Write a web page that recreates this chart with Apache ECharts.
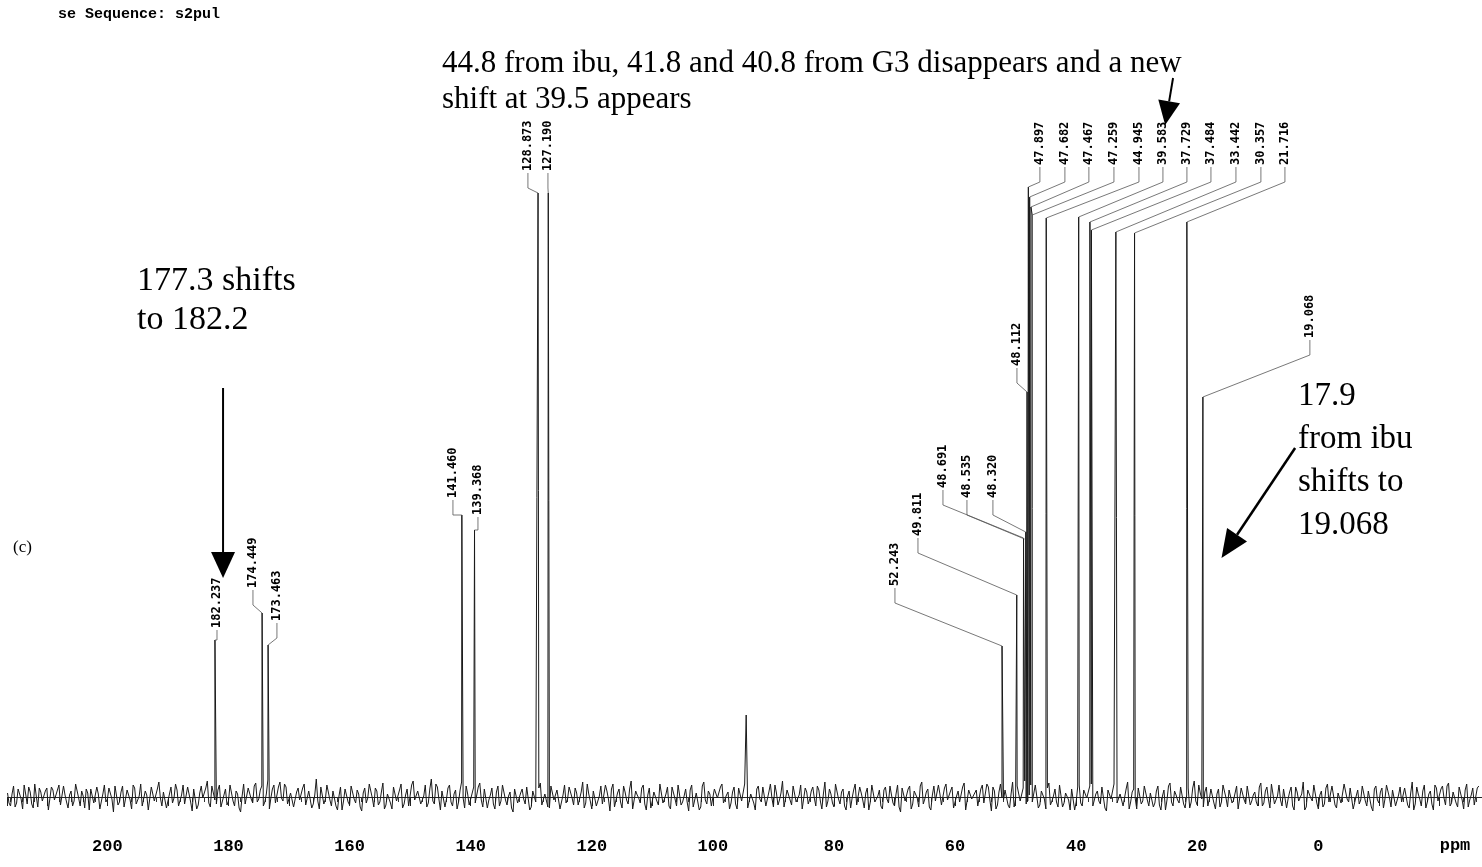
<!DOCTYPE html>
<html>
<head>
<meta charset="utf-8">
<script src="https://cdn.jsdelivr.net/npm/echarts@6/dist/echarts.min.js"></script>
<style>
  html, body { margin: 0; padding: 0; background: #fff; }
  #c { width: 1482px; height: 867px; }
</style>
</head>
<body>
<div id="c"></div>
<script>
// 13C NMR spectrum (s2pul), chemical shift in ppm

// Picked peaks: shift (ppm) and peak height (intensity units above baseline)
const peakPpm = [182.237, 174.449, 173.463, 141.460, 139.368, 128.873, 127.190,
  52.243, 49.811, 48.691, 48.535, 48.320, 48.112, 47.897, 47.682, 47.467, 47.259,
  44.945, 39.583, 37.729, 37.484, 33.442, 30.357, 21.716, 19.068];
const peakHeight = [157, 184, 152, 282, 267, 604, 604,
  151, 202, 259, 258, 265, 405, 610, 600, 590, 582,
  579, 580, 575, 567, 565, 564, 575, 400];

// Unlabelled artefact spike
const extraPpm = [94.5];
const extraHeight = [82];

// Baseline noise, sampled every 0.5 ppm from 216.5 ppm down to -26.5 ppm
const noiseStart = 216.5;
const noiseStep = 0.5;
const noise = [
  4,-9,11,-6,8,-12,3,10,-7,13,-10,5,-3,9,-14,7,-5,12,-8,2,
  -11,6,-4,14,-9,1,8,-13,10,-6,3,-10,12,-2,7,-15,9,-5,11,-8,
  5,-12,9,-3,13,-7,2,-11,8,-6,15,-9,4,-13,10,-1,7,-10,12,-5,
  9,-14,6,-8,11,-3,16,-10,4,-7,12,-12,8,-4,10,-9,3,-15,13,-6,
  7,-6,14,-2,11,-5,17,-1,12,-8,15,-4,10,-9,6,-11,9,-3,13,-10,
  4,-7,18,-12,8,-2,11,-9,5,-13,10,-4,7,-8,12,-6,3,-14,9,-1,
  11,-10,6,-5,14,-8,2,-12,9,-3,13,-7,8,-11,16,-4,5,-9,12,-6,
  18,-7,10,-13,4,-2,12,-9,7,-5,15,-11,3,-8,10,-6,14,-10,6,-3,
  9,-12,11,-4,13,-8,5,-15,10,-1,8,-7,12,-10,6,-3,14,-9,2,-11,
  10,-5,7,-13,12,-2,9,-8,4,-10,15,-6,3,-12,8,-4,11,-9,6,-14,
  13,-3,8,-11,5,-7,16,-10,2,-6,12,-13,9,-4,7,-8,14,-2,10,-12,
  4,-9,11,-5,8,-14,12,-3,6,-10,15,-7,3,-11,9,-2,13,-8,5,-6,
  10,-12,7,-4,14,-9,2,-13,11,-5,8,-7,13,-10,4,-3,16,-11,6,-8,
  9,-6,12,-14,5,-2,10,-9,7,-12,15,-4,3,-10,11,-7,8,-13,6,-1,
  13,-8,4,-11,9,-5,14,-3,7,-12,10,-6,2,-9,12,-15,8,-4,11,-7,
  5,-10,15,-2,8,-13,11,-6,3,-9,13,-4,10,-11,6,-7,14,-12,9,-3,
  7,-9,12,-5,10,-14,6,-8,13,-3,9,-11,15,-2,11,-6,16,-4,12,-7,
  10,-8,5,-12,14,-4,8,-10,11,-6,3,-13,9,-5,12,-9,7,-3,13,-11,
  6,-7,11,-14,9,-2,12,-8,4,-10,15,-5,8,-12,10,-4,13,-9,5,-6,
  11,-13,7,-3,14,-9,2,-6,12,-11,9,-5,16,-8,4,-10,10,-2,7,-12,
  8,-5,13,-10,6,-3,11,-14,9,-7,12,-4,5,-9,14,-6,10,-11,3,-8,
  12,-9,7,-2,10,-13,5,-6,15,-10,8,-4,11,-12,6,-7,13,-3,9,-11,
  4,-8,14,-5,10,-12,7,-3,12,-9,5,-14,11,-6,9,-2,13,-10,6,-7,
  10,-4,8,-11,15,-7,3,-9,12,-5,6,-13,9,-2,11,-8,14,-6,4,-10,
  8,-12,13,-3,9,-7,11
];

// Intermediate noise samples, every 0.5 ppm from 216.25 ppm down to -26.25 ppm
const noiseMidStart = 216.25;
const noiseMid = [
  -6,3,-10,8,-2,12,-7,5,-11,1,9,-4,6,-13,10,-3,7,-8,11,-5,
  2,-9,13,-1,6,-11,4,8,-6,10,-12,3,-5,9,-2,11,-8,5,-10,7,
  -3,12,-7,1,-9,6,-13,10,-4,8,-1,5,-11,3,-6,13,-9,2,-7,10,
  -5,8,-12,4,-1,9,-6,11,-3,7,-10,2,-8,12,-4,6,-11,1,-7,9,
  -2,11,-5,7,-9,3,-12,8,-6,10,-1,13,-7,4,-10,5,-3,9,-8,6,
  -11,2,-4,10,-7,12,-3,6,-9,1,-13,8,-5,11,-2,7,-10,4,-6,13,
  -1,9,-8,5,-12,3,-6,10,-4,7,-11,2,-9,12,-3,6,-7,1,-10,8,
  -4,13,-2,6,-10,9,-5,3,-12,7,-1,11,-8,4,-6,10,-3,8,-11,2,
  -7,5,-9,12,-3,1,-11,8,-6,4,-2,10,-13,6,-5,9,-8,3,-10,11,
  -3,7,-12,2,-6,10,-1,9,-8,5,-11,13,-4,6,-9,1,-7,12,-2,8,
  -10,4,-5,11,-3,8,-12,6,-1,9,-7,2,-11,5,-4,13,-6,3,-9,10,
  -2,12,-8,1,-5,7,-10,4,-13,11,-3,6,-9,8,-1,10,-6,2,-12,5,
  -7,9,-4,13,-11,3,-6,8,-2,10,-9,5,-1,12,-8,4,-10,7,-3,11,
  -5,2,-12,9,-7,6,-1,11,-4,3,-10,8,-6,13,-2,5,-9,1,-11,7,
  -8,10,-3,4,-13,12,-5,1,-9,7,-2,11,-6,3,-10,9,-4,8,-12,6,
  -1,11,-7,5,-10,2,-4,12,-8,9,-3,6,-11,1,-5,10,-13,7,-2,4,
  -9,8,-6,13,-3,10,-12,5,-1,7,-8,3,-10,11,-4,9,-7,2,-5,12,
  -11,6,-2,9,-8,1,-5,12,-10,4,-3,8,-13,10,-6,7,-1,11,-9,3,
  -4,10,-11,7,-2,13,-6,3,-9,8,-12,5,-1,9,-7,11,-3,4,-10,6,
  -8,1,-13,11,-5,6,-3,10,-7,2,-11,9,-4,12,-2,5,-9,8,-6,3,
  -10,12,-1,7,-6,4,-12,9,-3,11,-8,2,-5,10,-9,6,-2,13,-7,1,
  -3,8,-11,5,-9,10,-4,3,-13,7,-1,12,-6,2,-10,9,-5,11,-8,4,
  -6,13,-2,9,-12,1,-7,11,-4,6,-10,8,-3,5,-11,12,-1,7,-9,2,
  -5,9,-8,4,-13,10,-2,6,-11,3,-7,12,-4,8,-1,11,-9,5,-6,10,
  -3,7,-10,2,-8,9
];

// Axis tick labels (ppm)
const tickLabels = [200, 180, 160, 140, 120, 100, 80, 60, 40, 20, 0];

// Peak-label layout: where each vertical label sits (ppm along the axis)
// and the height of its lower end (intensity units)
const tagPpm = [181.9, 175.96, 172.0, 142.93, 138.8, 130.55, 127.24,
  69.93, 66.13, 62.0, 58.04, 53.75, 49.78, 45.99, 41.86, 37.9, 33.76,
  29.63, 25.67, 21.71, 17.74, 13.61, 9.49, 5.52, 1.4];
const tagBase = [167, 207, 174, 297, 280, 624, 624,
  209, 259, 307, 297, 297, 429, 630, 630, 630, 630,
  630, 630, 630, 630, 630, 630, 630, 457];

// Build the spectrum trace: noise samples plus the peak maxima, ordered by shift
const spectrum = noise.map((v, i) => [noiseStart - i * noiseStep, v]);
noiseMid.forEach((v, i) => spectrum.push([noiseMidStart - i * noiseStep, v]));
peakPpm.forEach((p, i) => spectrum.push([p, peakHeight[i]]));
extraPpm.forEach((p, i) => spectrum.push([p, extraHeight[i]]));
spectrum.sort((a, b) => b[0] - a[0]);

const tagData = peakPpm.map((p, i) => [tagPpm[i], tagBase[i], p, peakHeight[i]]);

const chart = echarts.init(document.getElementById('c'), null, { renderer: 'canvas' });

chart.setOption({
  animation: false,
  backgroundColor: '#ffffff',
  grid: {
    left: 7.5, top: 0, width: 1492.5, height: 818,
    containLabel: false,
    outerBoundsMode: 'none'
  },
  xAxis: {
    type: 'value',
    inverse: true,
    min: -30,
    max: 216.5,
    interval: 10,
    axisLine: { lineStyle: { color: '#222', width: 1 } },
    axisTick: { length: 9, lineStyle: { color: '#222', width: 1 } },
    minorTick: { show: true, splitNumber: 5, length: 5, lineStyle: { color: '#333', width: 1 } },
    splitLine: { show: false },
    minorSplitLine: { show: false },
    axisLabel: {
      showMaxLabel: false,
      formatter: v => (tickLabels.indexOf(v) >= 0 ? String(v) : ''),
      fontFamily: 'Liberation Mono',
      fontWeight: 'bold',
      fontSize: 17,
      color: '#000',
      margin: 20
    }
  },
  yAxis: {
    type: 'value',
    min: -21,
    max: 797,
    show: false
  },
  series: [
    {
      type: 'line',
      data: spectrum,
      showSymbol: false,
      symbol: 'none',
      lineStyle: { color: '#1a1a1a', width: 1 },
      z: 2
    },
    {
      type: 'custom',
      data: tagData,
      clip: false,
      z: 3,
      renderItem: (params, api) => {
        const lp = api.coord([api.value(0), api.value(1)]);
        const pp = api.coord([api.value(2), api.value(3)]);
        const stub = Math.max(0, Math.min(15, pp[1] - lp[1]));
        const s = [lp[0], lp[1] + stub];
        return {
          type: 'group',
          children: [
            {
              type: 'polyline',
              shape: { points: [lp, s, pp] },
              style: { stroke: '#555', lineWidth: 0.8, fill: null }
            },
            {
              type: 'text',
              x: lp[0],
              y: lp[1] - 2,
              rotation: Math.PI / 2,
              style: {
                text: api.value(2).toFixed(3),
                font: 'bold 12px "DejaVu Sans Mono"',
                fill: '#000',
                align: 'left',
                verticalAlign: 'middle'
              }
            }
          ]
        };
      }
    }
  ]
});

// Annotations: arrows point at positions on the spectrum's axes
const px = (ppm, v) => chart.convertToPixel({ gridIndex: 0 }, [ppm, v]);

function arrow(from, to, headLen, headW, width) {
  const a = px(from[0], from[1]);
  const b = px(to[0], to[1]);
  const dx = b[0] - a[0], dy = b[1] - a[1];
  const L = Math.hypot(dx, dy);
  const ux = dx / L, uy = dy / L;
  const bx = b[0] - ux * headLen, by = b[1] - uy * headLen;
  const nx = -uy, ny = ux;
  return [
    { type: 'line', shape: { x1: a[0], y1: a[1], x2: bx, y2: by }, style: { stroke: '#000', lineWidth: width } },
    { type: 'polygon', shape: { points: [[b[0], b[1]], [bx + nx * headW / 2, by + ny * headW / 2], [bx - nx * headW / 2, by - ny * headW / 2]] }, style: { fill: '#000' } }
  ];
}

const serif = '"Liberation Serif", "Times New Roman", serif';
const annotations = [
  {
    type: 'text', x: 442, y: 46,
    style: {
      text: '44.8 from ibu, 41.8 and 40.8 from G3 disappears and a new\nshift at 39.5 appears',
      font: '31px ' + serif, lineHeight: 36, fill: '#000', align: 'left', verticalAlign: 'top'
    }
  },
  {
    type: 'text', x: 137, y: 262,
    style: { text: '177.3 shifts\nto 182.2', font: '34px ' + serif, lineHeight: 39, fill: '#000', align: 'left', verticalAlign: 'top' }
  },
  {
    type: 'text', x: 1298, y: 375,
    style: { text: '17.9\nfrom ibu\nshifts to\n19.068', font: '33px ' + serif, lineHeight: 43, fill: '#000', align: 'left', verticalAlign: 'top' }
  },
  {
    type: 'text', x: 13, y: 548,
    style: { text: '(c)', font: '17px ' + serif, fill: '#000', align: 'left', verticalAlign: 'middle' }
  },
  {
    type: 'text', x: 58, y: 14,
    style: { text: 'se Sequence: s2pul', font: 'bold 15px "Liberation Mono"', fill: '#000', align: 'left', verticalAlign: 'middle' }
  },
  {
    type: 'text', x: 1455, y: 846,
    style: { text: 'ppm', font: 'bold 17px "Liberation Mono"', fill: '#000', align: 'center', verticalAlign: 'middle' }
  }
]
  .concat(arrow([180.9, 409], [180.9, 219], 26, 24, 2))
  .concat(arrow([24.0, 719], [25.3, 672], 24, 22, 2))
  .concat(arrow([3.84, 349], [16.0, 239], 28, 24, 2.5));

chart.setOption({ graphic: { elements: annotations } });
</script>
</body>
</html>
